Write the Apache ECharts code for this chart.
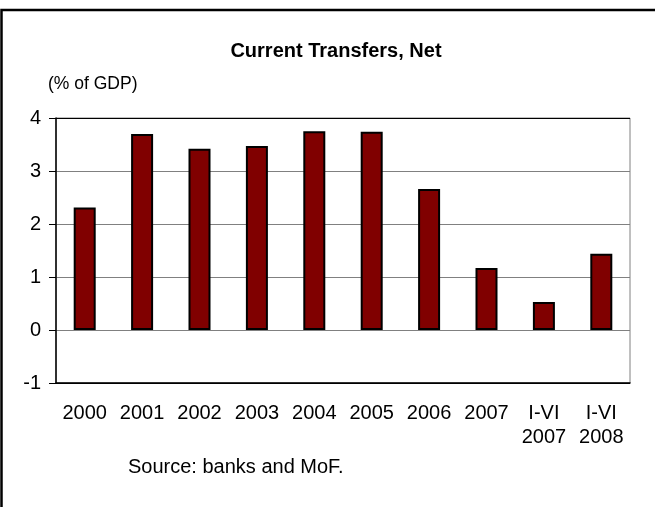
<!DOCTYPE html>
<html>
<head>
<meta charset="utf-8">
<script src="https://cdn.jsdelivr.net/npm/echarts@6/dist/echarts.min.js"></script>
<style>
html,body{margin:0;padding:0;background:#fff;}
#c{width:655px;height:507px;}
</style>
</head>
<body>
<div id="c"></div>
<script>
const categories = ['2000','2001','2002','2003','2004','2005','2006','2007','I-VI\n2007','I-VI\n2008'];
const values = [2.31, 3.70, 3.42, 3.47, 3.75, 3.74, 2.66, 1.17, 0.53, 1.44];
const titleText = 'Current Transfers, Net';
const unitText = '(% of GDP)';
const sourceText = 'Source: banks and MoF.';

const FONT = '"Liberation Sans", Arial, sans-serif';
const chart = echarts.init(document.getElementById('c'), null, {renderer:'canvas'});
chart.setOption({
  backgroundColor:'#fff',
  animation:false,
  title:{
    text:titleText, left:331, top:36, textAlign:'center',
    textStyle:{fontFamily:FONT, fontSize:20, fontWeight:'bold', color:'#000'}
  },
  graphic:[
    {type:'polyline', shape:{points:[[1.5,507],[1.5,10],[655,10]]}, style:{stroke:'#000', lineWidth:2.5, fill:null}},
    {type:'text', left:48, top:75, style:{text:unitText, font:'17.5px "Liberation Sans", Arial, sans-serif', fill:'#000'}},
    {type:'text', left:128, top:457, style:{text:sourceText, font:'20px "Liberation Sans", Arial, sans-serif', fill:'#000'}}
  ],
  grid:{left:56, right:25, top:118, bottom:124, show:true, borderColor:'#808080', borderWidth:1, containLabel:false},
  xAxis:{
    type:'category', data:categories,
    axisLine:{onZero:false, lineStyle:{color:'#000', width:1.5}},
    axisTick:{show:false},
    axisLabel:{interval:0, margin:18, fontFamily:FONT, fontSize:20, lineHeight:24, color:'#000'},
    splitLine:{show:false}
  },
  yAxis:{
    type:'value', min:-1, max:4, interval:1,
    axisLine:{show:true, lineStyle:{color:'#000', width:1.5}},
    axisTick:{show:true, length:7, lineStyle:{color:'#000'}},
    axisLabel:{margin:15, fontFamily:FONT, fontSize:20, color:'#000'},
    splitLine:{show:true, lineStyle:{color:['#000','#808080','#808080','#808080','#808080','#000'], width:1}}
  },
  series:[{
    type:'bar', data:values, barWidth:22,
    itemStyle:{color:'#800000', borderColor:'#000', borderWidth:2}
  }]
});
</script>
</body>
</html>
